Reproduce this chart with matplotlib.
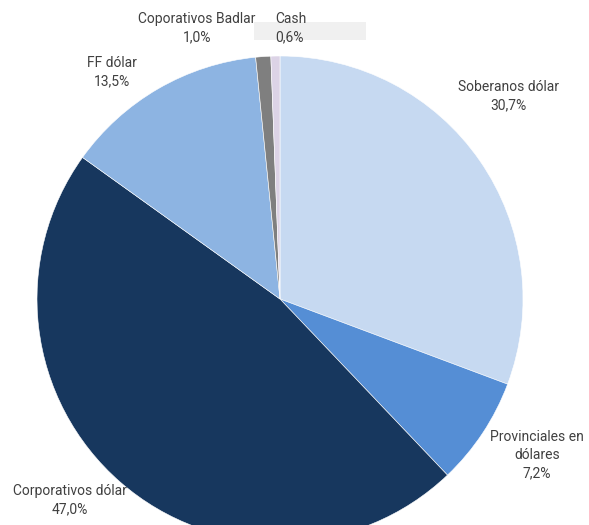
import matplotlib.pyplot as plt
from matplotlib.patches import Rectangle

categorias = ["Soberanos dólar", "Provinciales en\ndólares", "Corporativos dólar",
              "FF dólar", "Coporativos Badlar", "Cash"]
valores = [30.7, 7.2, 47.0, 13.5, 1.0, 0.6]
etiquetas = ["30,7%", "7,2%", "47,0%", "13,5%", "1,0%", "0,6%"]
colores = ["#C6D9F1", "#558ED5", "#17375E", "#8DB4E2", "#7F7F7F", "#DCD3E6"]

W, H = 589, 525
fig = plt.figure(figsize=(W / 100, H / 100), dpi=100)
ax = fig.add_axes([0, 0, 1, 1])
ax.axis("off")

ax.pie(valores, colors=colores, startangle=90, counterclock=False,
       center=(280, H - 299), radius=243,
       wedgeprops={"edgecolor": "white", "linewidth": 0.4})
ax.set_xlim(0, W)
ax.set_ylim(0, H)
ax.set_aspect("equal")

# caja gris detras de la etiqueta Cash
ax.add_patch(Rectangle((254, H - 40), 112, 18, facecolor="#F0F0F0",
                       edgecolor="none", zorder=0.5))

plt.rcParams["font.family"] = "Roboto"
estilo = dict(fontsize=10, color="#404040", linespacing=1.35)

pos = [(508, 96, "center"), (537, 455, "center"), (70, 500, "center"),
       (112, 72, "center"), (197, 28, "center"), (275, 28, "left")]
for cat, et, (x, y, ha) in zip(categorias, etiquetas, pos):
    ax.text(x, H - y, cat + "\n" + et, ha=ha, va="center", multialignment="center"
            if ha == "center" else "left", zorder=3, **estilo)

fig.savefig("out.png", dpi=100)
